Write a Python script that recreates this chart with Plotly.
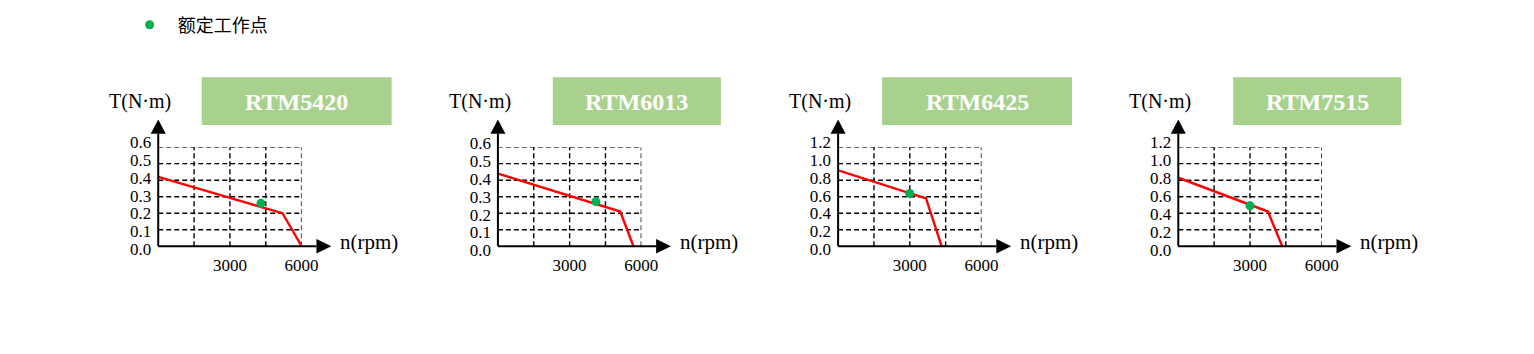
import plotly.graph_objects as go

W, H = 1534, 354

# ---- data ----
models = ["RTM5420", "RTM6013", "RTM6425", "RTM7515"]
speed_curve = [[0, 5200, 6000], [0, 5120, 5670], [0, 3680, 4330], [0, 3750, 4350]]
torque_curve = [[0.42, 0.20, 0.0], [0.44, 0.21, 0.0], [0.92, 0.58, 0.0], [0.83, 0.42, 0.0]]
rated_speed = [4300, 4100, 3000, 3000]
rated_torque = [0.26, 0.27, 0.64, 0.49]
y_max = [0.6, 0.6, 1.2, 1.2]
y_step = [0.1, 0.1, 0.2, 0.2]
x_max = 6000
x_grid = [1500, 3000, 4500, 6000]
x_ticks = [3000, 6000]
legend_name = "额定工作点"
y_title = "T(N·m)"
x_title = "n(rpm)"

# ---- layout geometry (pixels) ----
origin_x = [160, 503.5, 847.5, 1191.5]
plot_w = 145
plot_bottom, plot_top = 250.7, 146
plot_h = plot_bottom - plot_top
label_bottom = [253.3, 255, 253.3, 255]
label_top = [141, 141.7, 141, 141]
box_x = [(204, 396), (559, 729), (892, 1084), (1247, 1417)]
box_y = (72, 122.7)

RED = "#ff0000"
GREEN = "#00b050"
BOXC = "#a9d18e"
SERIF = "Liberation Serif, Times New Roman, serif"


def px_x(p):
    return p / W


def px_y(p):
    return 1 - p / H


fig = go.Figure()
shapes = []
annotations = []

for i in range(4):
    sfx = "" if i == 0 else str(i + 1)
    lsfx = str(i + 5)
    xa, ya, yl = "x" + sfx, "y" + sfx, "y" + lsfx
    # empty trace so the tick-label axis is drawn (added first, sits underneath)
    fig.add_trace(go.Scatter(x=[], y=[], xaxis=xa, yaxis=yl, showlegend=False,
                             hoverinfo="skip"))
    fig.add_trace(go.Scatter(
        x=speed_curve[i], y=torque_curve[i], mode="lines",
        line=dict(color=RED, width=2.4), xaxis=xa, yaxis=ya,
        showlegend=False, cliponaxis=False, hoverinfo="skip"))
    fig.add_trace(go.Scatter(
        x=[rated_speed[i]], y=[rated_torque[i]], mode="markers",
        marker=dict(color=GREEN, size=9), xaxis=xa, yaxis=ya,
        name=legend_name, showlegend=(i == 0), cliponaxis=False))

    n_steps = int(round(y_max[i] / y_step[i]))
    yvals = [round(k * y_step[i], 2) for k in range(n_steps + 1)]

    x0 = px_x(origin_x[i])
    x1 = px_x(origin_x[i] + plot_w)
    fig.update_layout(**{
        ("xaxis" + sfx): dict(
            domain=[x0, x1], range=[0, x_max], showgrid=False, zeroline=False,
            showline=False, tickvals=x_ticks, ticks="", ticklabelstandoff=7,
            tickfont=dict(family=SERIF, size=17, color="black"),
            anchor=ya, fixedrange=True),
        ("yaxis" + sfx): dict(
            domain=[px_y(plot_bottom), px_y(plot_top)], range=[0, y_max[i]],
            showgrid=False, zeroline=False, showline=False, showticklabels=False,
            ticks="", anchor=xa, fixedrange=True),
        ("yaxis" + lsfx): dict(
            domain=[px_y(label_bottom[i]), px_y(label_top[i])], range=[0, y_max[i]],
            showgrid=False, zeroline=False, showline=False, tickvals=yvals,
            tickformat=".1f", ticks="", ticklabelstandoff=7,
            tickfont=dict(family=SERIF, size=17, color="black"),
            anchor="free", position=x0, fixedrange=True),
    })

    # dashed grid
    for gx in x_grid:
        shapes.append(dict(type="line", xref=xa, yref=ya, x0=gx, x1=gx, y0=0, y1=y_max[i],
                           line=dict(color="black", width=1.4, dash="5px,3px"), layer="below"))
    for gy in yvals[1:]:
        shapes.append(dict(type="line", xref=xa, yref=ya, x0=0, x1=x_max, y0=gy, y1=gy,
                           line=dict(color="black", width=1.4, dash="5px,3px"), layer="below"))

    # axis lines with arrows (domain refs)
    xd, yd = xa + " domain", ya + " domain"
    xb = (320 - 160) / plot_w
    xt = (335 - 160) / plot_w
    ah = 7.6 / plot_h
    yb = (plot_bottom - 131.7) / plot_h
    yt = (plot_bottom - 116.7) / plot_h
    aw = 7.6 / plot_w
    shapes.append(dict(type="line", xref=xd, yref=yd, x0=0, x1=xb, y0=0, y1=0,
                       line=dict(color="black", width=2)))
    shapes.append(dict(type="line", xref=xd, yref=yd, x0=0, x1=0, y0=0, y1=yb,
                       line=dict(color="black", width=2)))
    shapes.append(dict(type="path", xref=xd, yref=yd,
                       path=f"M {xb} {-ah} L {xt} 0 L {xb} {ah} Z",
                       fillcolor="black", line=dict(width=0)))
    shapes.append(dict(type="path", xref=xd, yref=yd,
                       path=f"M {-aw} {yb} L 0 {yt} L {aw} {yb} Z",
                       fillcolor="black", line=dict(width=0)))

    # axis titles
    annotations.append(dict(text=y_title, xref="paper", yref="paper",
                            x=px_x(origin_x[i] - 18.5), y=px_y(98), showarrow=False,
                            xanchor="center", yanchor="middle",
                            font=dict(family=SERIF, size=20, color="black")))
    annotations.append(dict(text=x_title, xref="paper", yref="paper",
                            x=px_x(origin_x[i] + 213), y=px_y(246.5), showarrow=False,
                            xanchor="center", yanchor="middle",
                            font=dict(family=SERIF, size=21, color="black")))

    # model title box
    bx0, bx1 = box_x[i]
    shapes.append(dict(type="rect", xref="paper", yref="paper",
                       x0=px_x(bx0), x1=px_x(bx1), y0=px_y(box_y[1]), y1=px_y(box_y[0]),
                       fillcolor=BOXC, line=dict(width=0), layer="below"))
    annotations.append(dict(text="<b>" + models[i] + "</b>", xref="paper", yref="paper",
                            x=px_x((bx0 + bx1) / 2), y=px_y((box_y[0] + box_y[1]) / 2 + 0.5),
                            showarrow=False, xanchor="center", yanchor="middle",
                            font=dict(family=SERIF, size=24, color="white")))

fig.update_layout(
    width=W, height=H, margin=dict(l=0, r=0, t=0, b=0),
    paper_bgcolor="white", plot_bgcolor="rgba(0,0,0,0)",
    shapes=shapes, annotations=annotations,
    showlegend=True,
    legend=dict(x=px_x(123), y=px_y(17), xanchor="left", yanchor="middle",
                orientation="h", itemwidth=46, bgcolor="rgba(0,0,0,0)",
                font=dict(family="Noto Sans CJK SC", size=18, color="black")),
)

fig.write_html("out.html")
